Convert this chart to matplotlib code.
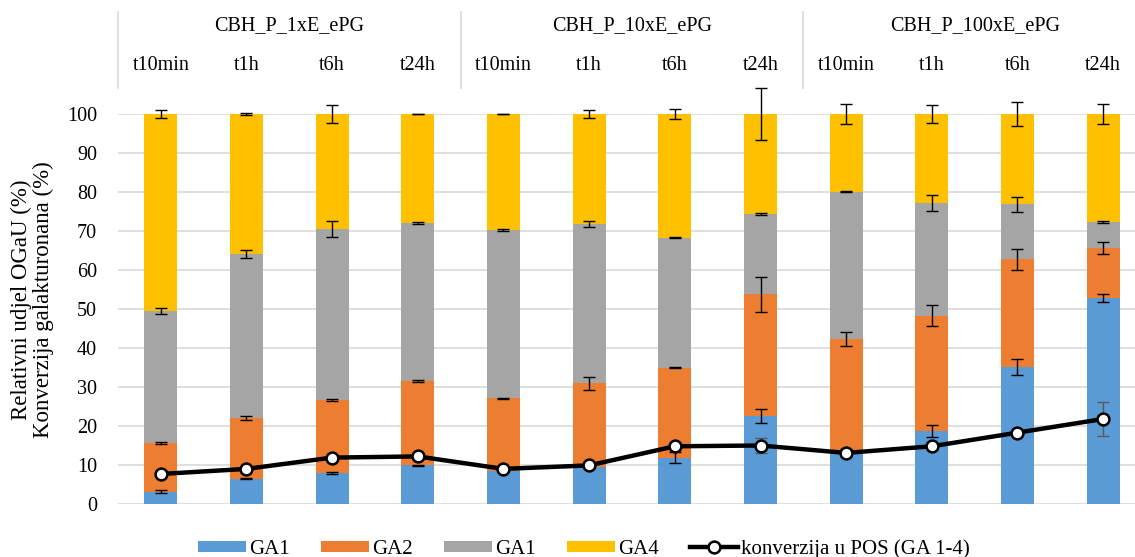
import numpy as np
import matplotlib
matplotlib.use("Agg")
import matplotlib.pyplot as plt
from matplotlib.lines import Line2D
from matplotlib.patches import Patch

plt.rcParams["font.family"] = ["Liberation Serif", "DejaVu Serif"]

# ─────────────────────────────────────────
# Data
# ─────────────────────────────────────────
groups = ["CBH_P_1xE_ePG", "CBH_P_10xE_ePG", "CBH_P_100xE_ePG"]
times  = ["t10min", "t1h", "t6h", "t24h"]

ga1 = [3.2, 6.5, 7.9, 9.9, 8.5, 9.6, 11.9, 22.6, 13.6, 18.8, 35.1, 52.9]
ga2 = [12.4, 15.5, 18.7, 21.6, 18.6, 21.3, 23.1, 31.2, 28.7, 29.5, 27.7, 12.8]
ga3 = [33.9, 42.1, 43.9, 40.6, 43.2, 40.8, 33.3, 20.6, 37.8, 28.9, 14.1, 6.6]
ga4 = [50.5, 35.9, 29.5, 27.9, 29.7, 28.3, 31.7, 25.6, 19.9, 22.8, 23.1, 27.7]

ga1_err = [0.5, 0.2, 0.2, 0.2, 0.1, 0.3, 1.5, 1.8, 0.5, 1.5, 2.1, 1.0]
ga2_err = [0.3, 0.5, 0.2, 0.2, 0.2, 1.75, 0.2, 4.5, 1.9, 2.7, 2.7, 1.5]
ga3_err = [0.8, 1.0, 2.0, 0.2, 0.2, 0.8, 0.2, 0.3, 0.2, 2.0, 1.9, 0.3]
ga4_err = [1.1, 0.3, 2.3, 0.1, 0.1, 1.1, 1.3, 6.7, 2.6, 2.3, 3.2, 2.6]

konverzija     = [7.7, 9.0, 11.9, 12.2, 9.0, 9.9, 14.8, 15.0, 13.1, 14.8, 18.3, 21.8]
konverzija_err = [0, 0, 0, 0, 0, 0, 0, 1.9, 0, 0, 0, 4.4]

series_labels = ["GA1", "GA2", "GA1", "GA4"]
colors        = ["#5B9BD5", "#ED7D31", "#A5A5A5", "#FFC000"]

# ─────────────────────────────────────────
# Figure
# ─────────────────────────────────────────
fig = plt.figure(figsize=(11.35, 5.57), dpi=100)
ax = fig.add_axes([118 / 1135, 53 / 557, 1028 / 1135, 390 / 557])

x = np.arange(len(ga1))
width = 0.385

layers = [ga1, ga2, ga3, ga4]
errs   = [ga1_err, ga2_err, ga3_err, ga4_err]
bottom = np.zeros(len(x))
for vals, err, col in zip(layers, errs, colors):
    vals = np.array(vals)
    ax.bar(x, vals, width, bottom=bottom, color=col, zorder=2)
    top = bottom + vals
    eb = ax.errorbar(x, top, yerr=err, fmt="none", ecolor="black",
                     elinewidth=1, capsize=4, capthick=1, zorder=3)
    for child in eb.get_children():
        child.set_clip_on(False)
    bottom = top

# conversion line
eb = ax.errorbar(x, konverzija, yerr=konverzija_err, fmt="none",
                 ecolor="#595959", elinewidth=1, capsize=4, capthick=1, zorder=4)
ax.plot(x, konverzija, color="black", lw=3.2, marker="o", markersize=8.5,
        markerfacecolor="white", markeredgecolor="black", markeredgewidth=1.8,
        zorder=5)

ax.set_xlim(-0.5, len(x) - 0.5)
ax.set_ylim(0, 100)
ax.set_yticks(np.arange(0, 101, 10))
ax.tick_params(axis="y", length=0, pad=15, labelsize=14.5)
ax.set_xticks([])
ax.yaxis.grid(True, color="#D9D9D9", lw=1.2, zorder=0)
ax.set_axisbelow(True)
for s in ax.spines.values():
    s.set_visible(False)

# header: group names, time labels, separators
trans = ax.get_xaxis_transform()
for gi, g in enumerate(groups):
    ax.text(gi * 4 + 1.5, 1.226, g, transform=trans, ha="center", va="center",
            fontsize=14.5)
    for ti, t in enumerate(times):
        ax.text(gi * 4 + ti, 1.124, t, transform=trans, ha="center",
                va="center", fontsize=14.5)
for sx in [-0.5, 3.5, 7.5, 11.5]:
    ax.plot([sx, sx], [1.067, 1.262], transform=trans, color="#D9D9D9",
            lw=1.2, clip_on=False)

fig.text(32 / 1135, 1 - 300 / 557,
         "Relativni udjel OGaU (%)\nKonverzija galakturonana (%)",
         rotation=90, ha="center", va="center", fontsize=16.5,
         multialignment="center", linespacing=1.05)

# legend
handles = [Patch(facecolor=c, edgecolor="none") for c in colors]
handles.append(Line2D([0], [0], color="black", lw=3.2, marker="o",
                      markersize=8.5, markerfacecolor="white",
                      markeredgecolor="black", markeredgewidth=1.8))
labels = series_labels + ["konverzija u POS (GA 1-4)"]
fig.legend(handles, labels, loc="center", bbox_to_anchor=(584 / 1135, 1 - 549 / 557),
           ncol=5, frameon=False, fontsize=15, handlelength=2.3,
           handleheight=0.45, handletextpad=0.15, columnspacing=1.5,
           borderaxespad=0)

fig.savefig("out.png", dpi=100)
